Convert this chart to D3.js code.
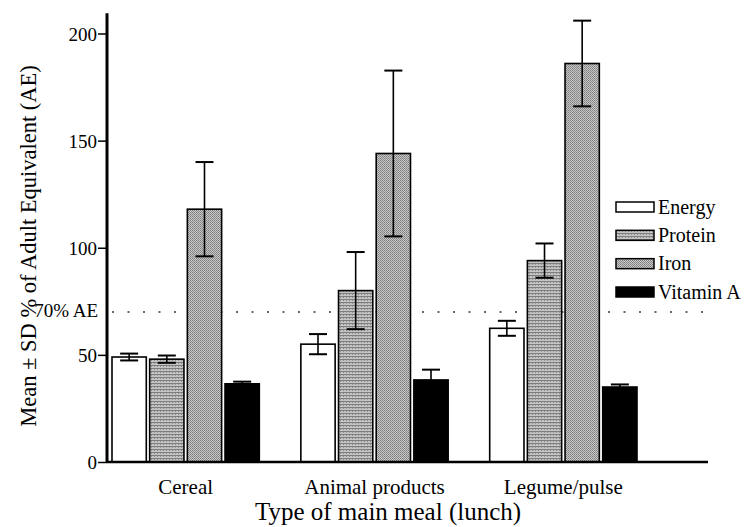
<!DOCTYPE html>
<html lang="en">
<head>
    <meta charset="UTF-8">
    <title>Adult Equivalent by type of main meal</title>
    <script src="https://d3js.org/d3.v7.min.js"></script>
    <style>
        body { margin: 0; background: #fff; }
        svg text { font-family: "Liberation Serif", Tinos, "Times New Roman", Times, "DejaVu Serif", serif !important; fill: #000; }
    </style>
</head>
<body>
    <svg width="746" height="527"></svg>
    <script>
        // Data (% of Adult Equivalent, mean and SD)
        const categories = ["Cereal", "Animal products", "Legume/pulse"];
        const series = ["Energy", "Protein", "Iron", "Vitamin A"];
        const energy = [49, 55, 62.4];
        const energySD = [1.6, 4.7, 3.5];
        const protein = [48, 80, 94];
        const proteinSD = [1.7, 18, 8];
        const iron = [118, 144, 186];
        const ironSD = [22, 38.7, 20];
        const vitaminA = [36.5, 38.3, 35];
        const vitaminASD = [1, 4.8, 1.2];
        const yTicks = [0, 50, 100, 150, 200];
        const refLine = 70;

        const means = [energy, protein, iron, vitaminA];
        const sds = [energySD, proteinSD, ironSD, vitaminASD];

        const rows = [];
        categories.forEach((c, i) => {
            series.forEach((s, j) => {
                rows.push({ cat: c, key: s, value: means[j][i], sd: sds[j][i] });
            });
        });

        const svg = d3.select("svg");

        // fills
        const defs = svg.append("defs");
        const pProt = defs.append("pattern")
            .attr("id", "pat-protein").attr("width", 3).attr("height", 3)
            .attr("patternUnits", "userSpaceOnUse");
        pProt.append("rect").attr("width", 3).attr("height", 3).attr("fill", "#c4c4c4");
        pProt.append("rect").attr("y", 2).attr("width", 3).attr("height", 1).attr("fill", "#7e7e7e");
        pProt.append("rect").attr("x", 1).attr("y", 0).attr("width", 1).attr("height", 1).attr("fill", "#8e8e8e");

        const pIron = defs.append("pattern")
            .attr("id", "pat-iron").attr("width", 2).attr("height", 2)
            .attr("patternUnits", "userSpaceOnUse");
        pIron.append("rect").attr("width", 2).attr("height", 2).attr("fill", "#c8c8c8");
        pIron.append("rect").attr("width", 1).attr("height", 1).attr("fill", "#7c7c7c");
        pIron.append("rect").attr("x", 1).attr("y", 1).attr("width", 1).attr("height", 1).attr("fill", "#8e8e8e");

        const fills = {
            "Energy": "#ffffff",
            "Protein": "url(#pat-protein)",
            "Iron": "url(#pat-iron)",
            "Vitamin A": "#000000"
        };

        // scales
        const x0 = d3.scaleBand()
            .domain(categories)
            .range([112, 637])
            .paddingInner(0.22)
            .paddingOuter(0);

        const x1 = d3.scaleBand()
            .domain(series)
            .range([0, x0.bandwidth()])
            .paddingInner(0.09);

        const y = d3.scaleLinear()
            .domain([0, 200])
            .range([462, 33.5]);

        const axisLeftX = 107;
        const axisRightX = 708;

        // 70% AE reference line
        svg.append("line")
            .attr("x1", 112)
            .attr("x2", 704)
            .attr("y1", y(refLine))
            .attr("y2", y(refLine))
            .attr("stroke", "#333")
            .attr("stroke-width", 1.6)
            .attr("stroke-dasharray", "2,13.5");

        svg.append("text")
            .attr("x", 98)
            .attr("y", y(refLine) + 5)
            .attr("text-anchor", "end")
            .attr("font-size", "19px")
            .text("70% AE");

        // bars
        const bars = svg.append("g");
        bars.selectAll("rect")
            .data(rows)
            .enter()
            .append("rect")
                .attr("x", d => x0(d.cat) + x1(d.key))
                .attr("y", d => y(d.value))
                .attr("width", x1.bandwidth())
                .attr("height", d => y(0) - y(d.value))
                .attr("fill", d => fills[d.key])
                .attr("stroke", "#000")
                .attr("stroke-width", 1.6);

        // error bars
        const capW = 18;
        const err = svg.append("g").attr("stroke", "#000").attr("stroke-width", 1.6);
        rows.forEach(d => {
            const cx = x0(d.cat) + x1(d.key) + x1.bandwidth() / 2;
            err.append("line")
                .attr("x1", cx).attr("x2", cx)
                .attr("y1", y(d.value + d.sd)).attr("y2", y(d.value - d.sd));
            [d.value + d.sd, d.value - d.sd].forEach(v => {
                err.append("line")
                    .attr("x1", cx - capW / 2).attr("x2", cx + capW / 2)
                    .attr("y1", y(v)).attr("y2", y(v))
                    .attr("stroke-width", 2);
            });
        });

        // axes
        const yAxis = svg.append("g")
            .attr("transform", `translate(${axisLeftX},0)`)
            .call(d3.axisLeft(y).tickValues(yTicks).tickSize(9).tickPadding(1));
        yAxis.select(".domain").remove();
        yAxis.selectAll(".tick line").attr("stroke", "#000").attr("stroke-width", 1.5);
        yAxis.selectAll(".tick text")
            .attr("font-size", "19px")
            .attr("fill", "#000")
            .attr("dy", "0.36em");

        svg.append("line")
            .attr("x1", axisLeftX).attr("x2", axisLeftX)
            .attr("y1", y(0) + 1).attr("y2", y(209.5))
            .attr("stroke", "#000").attr("stroke-width", 3);

        svg.append("line")
            .attr("x1", axisLeftX).attr("x2", axisRightX)
            .attr("y1", y(0)).attr("y2", y(0))
            .attr("stroke", "#000").attr("stroke-width", 2.5);

        // category labels
        svg.append("g").selectAll("text")
            .data(categories)
            .enter()
            .append("text")
                .attr("x", d => x0(d) + x0.bandwidth() / 2)
                .attr("y", 494)
                .attr("text-anchor", "middle")
                .attr("font-size", "21px")
                .text(d => d);

        // axis titles
        svg.append("text")
            .attr("x", 388)
            .attr("y", 520)
            .attr("text-anchor", "middle")
            .attr("font-size", "25px")
            .text("Type of main meal (lunch)");

        svg.append("text")
            .attr("transform", "rotate(-90)")
            .attr("x", -246)
            .attr("y", 36)
            .attr("text-anchor", "middle")
            .attr("font-size", "22.5px")
            .text("Mean \u00b1 SD % of Adult Equivalent (AE)");

        // legend
        const legendY = d3.scaleBand()
            .domain(series)
            .range([202, 297])
            .paddingInner(0.647);

        const legend = svg.append("g");
        series.forEach(s => {
            legend.append("rect")
                .attr("x", 616)
                .attr("y", legendY(s))
                .attr("width", 38)
                .attr("height", legendY.bandwidth())
                .attr("fill", fills[s])
                .attr("stroke", "#000")
                .attr("stroke-width", 1.5);
            legend.append("text")
                .attr("x", 658)
                .attr("y", legendY(s) + legendY.bandwidth() + 1.5)
                .attr("font-size", "20px")
                .text(s);
        });
    </script>
</body>
</html>
